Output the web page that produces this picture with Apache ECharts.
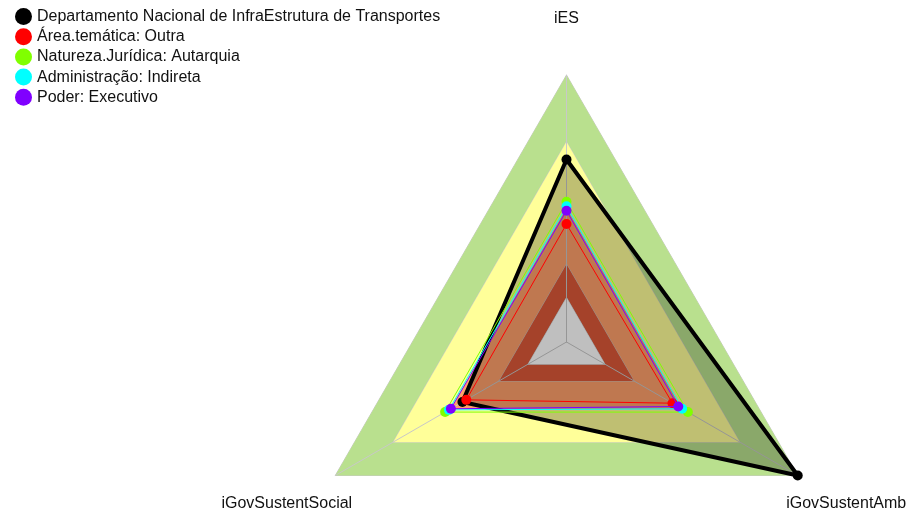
<!DOCTYPE html>
<html>
<head>
<meta charset="utf-8">
<script src="https://cdn.jsdelivr.net/npm/echarts@6/dist/echarts.min.js"></script>
<style>
  html, body { margin: 0; padding: 0; background: #fff; }
  #chart { width: 909px; height: 517px; }
</style>
</head>
<body>
<div id="chart"></div>
<script>
// radar axes, in ECharts order (top, then counter-clockwise)
const indicators = ["iES", "iGovSustentSocial", "iGovSustentAmb"];
const axisMax = 1.2;

const seriesNames = [
  "Departamento Nacional de InfraEstrutura de Transportes",
  "Área.temática: Outra",
  "Natureza.Jurídica: Autarquia",
  "Administração: Indireta",
  "Poder: Executivo"
];
const seriesColors = ["#000000", "#FF0000", "#80FF00", "#00FFFF", "#8000FF"];

// values per axis: [iES, iGovSustentSocial, iGovSustentAmb]
const dnit = [0.82, 0.54, 1.2];
const areaOutra = [0.53, 0.52, 0.55];
const autarquia = [0.63, 0.63, 0.63];
const indireta = [0.61, 0.61, 0.60];
const executivo = [0.59, 0.60, 0.58];
const seriesValues = [dnit, areaOutra, autarquia, indireta, executivo];

// background bands (upper edge of each band), inner to outer
const bandEdges = [0.2, 0.35, 0.6, 0.9, 1.2];
const bandColors = ["#ffffff", "#dc5838", "#ffa06b", "#ffff99", "#b9e08e"];

const CX = 566.5;
const CY = 342;
const R = 267;
const NAME_GAP = 56;
const gridGray = "#c8c8c8";

const radarIndicators = indicators.map(name => ({ name, min: 0, max: axisMax }));

const axisLabels = indicators.map((name, i) => {
  const ang = Math.PI / 2 + i * 2 * Math.PI / indicators.length;
  return {
    type: "text",
    x: CX + Math.cos(ang) * (R + NAME_GAP),
    y: CY - Math.sin(ang) * (R + NAME_GAP),
    style: {
      text: name,
      fill: "#111",
      font: "16px 'Liberation Sans', Arial, sans-serif",
      align: "center",
      verticalAlign: "middle"
    }
  };
});

// bands drawn outer first so the inner ones sit on top
const bandData = bandEdges
  .map((edge, i) => ({
    value: indicators.map(() => edge),
    areaStyle: { color: bandColors[i], opacity: 1 }
  }))
  .reverse();

const chart = echarts.init(document.getElementById("chart"));

chart.setOption({
  animation: false,
  legend: {
    orient: "vertical",
    left: 10,
    top: 3,
    icon: "circle",
    itemWidth: 17,
    itemHeight: 17,
    itemGap: 3.2,
    data: seriesNames,
    textStyle: {
      fontFamily: "'Liberation Sans', Arial, sans-serif",
      fontSize: 16,
      color: "#111"
    }
  },
  graphic: axisLabels,
  radar: {
    indicator: radarIndicators,
    center: [CX, CY],
    radius: R,
    shape: "polygon",
    splitNumber: 4,
    z: 2,
    axisName: { show: false },
    axisLine: { show: true, lineStyle: { color: gridGray, width: 1 } },
    splitLine: { show: false },
    splitArea: { show: false }
  },
  series: [
    {
      type: "radar",
      name: "bands",
      z: 1,
      silent: true,
      symbol: "none",
      lineStyle: { color: gridGray, width: 1 },
      data: bandData
    }
  ].concat(seriesNames.map((name, i) => ({
    type: "radar",
    name,
    z: 3 + i,
    symbol: "circle",
    symbolSize: 10,
    silent: true,
    lineStyle: { color: seriesColors[i], width: i === 0 ? 4 : 1 },
    itemStyle: { color: seriesColors[i] },
    areaStyle: i === 0 ? { color: "#000000", opacity: 0.25 } : undefined,
    data: [{ name, value: seriesValues[i] }]
  })))
});
</script>
</body>
</html>
